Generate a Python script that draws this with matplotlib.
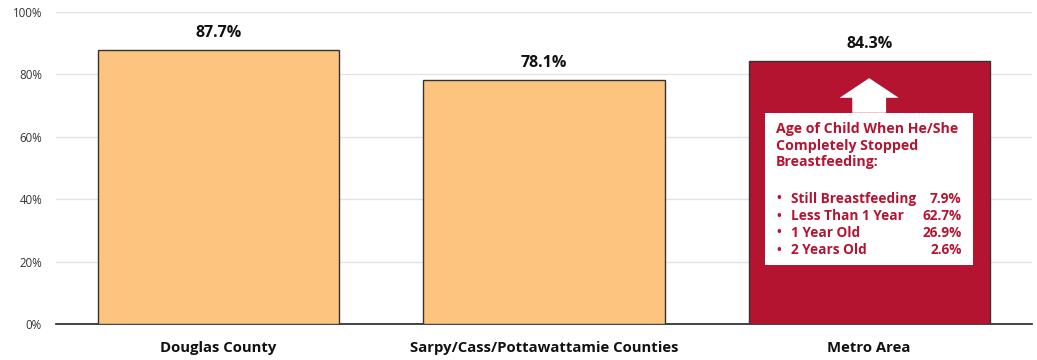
import matplotlib.pyplot as plt
from matplotlib.patches import Polygon, Rectangle

categories = ['Douglas County', 'Sarpy/Cass/Pottawattamie Counties', 'Metro Area']
values = [87.7, 78.1, 84.3]
bar_colors = ['#FCC47F', '#FCC47F', '#B51431']

inset_title = 'Age of Child When He/She\nCompletely Stopped\nBreastfeeding:'
inset_items = ['Still Breastfeeding', 'Less Than 1 Year', '1 Year Old', '2 Years Old']
inset_values = [7.9, 62.7, 26.9, 2.6]

RED = '#B51431'
plt.rcParams['font.family'] = ['Open Sans', 'DejaVu Sans']

fig = plt.figure(figsize=(10.37, 3.6), dpi=100)
ax = fig.add_axes([0.054, 0.1, 0.941, 0.8667])

x = range(len(categories))
ax.bar(x, values, width=0.742, color=bar_colors, edgecolor='#333333', linewidth=1.0, zorder=3)
for i, v in enumerate(values):
    ax.text(i, v + 3.0, '%.1f%%' % v, ha='center', va='bottom', fontsize=11.5, fontweight='bold', color='#111111')

ax.set_xlim(-0.5, 2.5)
ax.set_ylim(0, 100)
ax.set_yticks(range(0, 101, 20))
ax.set_yticklabels(['%d%%' % t for t in range(0, 101, 20)], fontsize=8.3, color='#333333')
ax.set_xticks(list(x))
ax.set_xticklabels(categories, fontsize=10.7, fontweight='bold', color='#111111')
ax.tick_params(axis='both', length=0)
ax.tick_params(axis='x', pad=12)
ax.tick_params(axis='y', pad=10)
ax.grid(axis='y', color='#E3E3E3', linewidth=1.0, zorder=0)
for s in ['top', 'right', 'left']:
    ax.spines[s].set_visible(False)
ax.spines['bottom'].set_color('#222222')
ax.spines['bottom'].set_linewidth(1.2)

# callout inside the Metro bar
cx = 2
arrow = Polygon([(cx, 78.8), (cx - 0.091, 72.5), (cx - 0.052, 72.5), (cx - 0.052, 67.7),
                 (cx + 0.052, 67.7), (cx + 0.052, 72.5), (cx + 0.091, 72.5)],
                closed=True, facecolor='white', edgecolor='none', zorder=4)
ax.add_patch(arrow)
ax.add_patch(Rectangle((cx - 0.32, 18.9), 0.64, 48.8, facecolor='white', edgecolor='none', zorder=4))

ax.text(cx - 0.286, 64.6, inset_title, ha='left', va='top', fontsize=10.2, fontweight='bold',
        color=RED, linespacing=1.2, zorder=5)
ys = [40.1, 34.6, 29.2, 23.7]
for y, item, val in zip(ys, inset_items, inset_values):
    ax.text(cx - 0.279, y, '\u2022', ha='center', va='center', fontsize=9, fontweight='bold', color=RED, zorder=5)
    ax.text(cx - 0.24, y, item, ha='left', va='center', fontsize=9.8, fontweight='bold', color=RED, zorder=5)
    ax.text(cx + 0.284, y, '%.1f%%' % val, ha='right', va='center', fontsize=9.8, fontweight='bold', color=RED, zorder=5)

fig.savefig('out.png', dpi=100)
